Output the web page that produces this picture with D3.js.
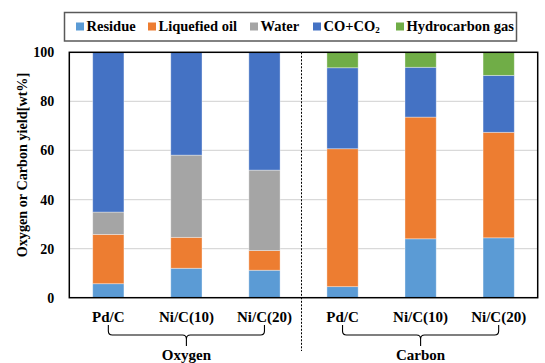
<!DOCTYPE html>
<html>
<head>
<meta charset="utf-8">
<script src="https://cdn.jsdelivr.net/npm/d3@7/dist/d3.min.js"></script>
<style>
  html, body { margin: 0; padding: 0; background: #fff; }
</style>
</head>
<body>
<svg id="chart" width="545" height="363"></svg>
<script>
// Catalysts in each bar, in drawing order (first three: oxygen balance, last three: carbon balance)
const categories = ["Pd/C", "Ni/C(10)", "Ni/C(20)", "Pd/C", "Ni/C(10)", "Ni/C(20)"];
const groups = ["Oxygen", "Carbon"];
const seriesNames = ["Residue", "Liquefied oil", "Water", "CO+CO2", "Hydrocarbon gas"];
const seriesColors = ["#5B9BD5", "#ED7D31", "#A5A5A5", "#4472C4", "#70AD47"];

// Yields in wt%
const residue        = [5.7, 12.0, 11.2, 4.5, 24.0, 24.4];
const liquefiedOil   = [20.1, 12.6, 8.0, 56.2, 49.6, 43.0];
const water          = [9.1, 33.5, 32.8, 0, 0, 0];
const coCo2          = [65.1, 41.9, 48.0, 33.0, 20.3, 23.2];
const hydrocarbonGas = [0, 0, 0, 6.3, 6.1, 9.4];

const yTicks = [0, 20, 40, 60, 80, 100];

const FONT = "Liberation Serif";

const seriesValues = [residue, liquefiedOil, water, coCo2, hydrocarbonGas];
const rows = categories.map((c, i) => {
  const r = { idx: i, name: c };
  seriesNames.forEach((s, k) => { r[s] = seriesValues[k][i]; });
  return r;
});

const svg = d3.select("#chart");
const margin = { left: 69.3, right: 7.3, top: 52.3, bottom: 65.3 };
const W = 545, H = 363;
const plotW = W - margin.left - margin.right;
const plotH = H - margin.top - margin.bottom;

const x = d3.scaleBand()
  .domain(rows.map(d => d.idx))
  .range([margin.left, margin.left + plotW])
  .paddingInner(0.6)
  .paddingOuter(0.3);

const y = d3.scaleLinear()
  .domain([0, 100])
  .range([margin.top + plotH, margin.top]);

const color = d3.scaleOrdinal().domain(seriesNames).range(seriesColors);

// gridlines
svg.append("g")
  .selectAll("line")
  .data(yTicks.filter(t => t > 0 && t < 100))
  .join("line")
  .attr("x1", margin.left).attr("x2", margin.left + plotW)
  .attr("y1", d => y(d)).attr("y2", d => y(d))
  .attr("stroke", "#d9d9d9").attr("stroke-width", 1.2);

// stacked bars
const stack = d3.stack().keys(seriesNames);
const stacked = stack(rows);

svg.append("g")
  .selectAll("g")
  .data(stacked)
  .join("g")
  .attr("fill", d => color(d.key))
  .selectAll("rect")
  .data(d => d.filter(p => p[1] - p[0] > 0))
  .join("rect")
  .attr("x", d => x(d.data.idx))
  .attr("width", x.bandwidth())
  .attr("y", d => y(d[1]))
  .attr("height", d => y(d[0]) - y(d[1]))
  .attr("stroke", "#ffffff")
  .attr("stroke-opacity", 0.45)
  .attr("stroke-width", 0.8);

// plot frame
svg.append("rect")
  .attr("x", margin.left).attr("y", margin.top)
  .attr("width", plotW).attr("height", plotH)
  .attr("fill", "none").attr("stroke", "#000").attr("stroke-width", 1.5);

// dotted separator between the oxygen and carbon groups
const sepX = (x(2) + x.bandwidth() + x(3)) / 2 - 2;
svg.append("line")
  .attr("x1", sepX).attr("x2", sepX)
  .attr("y1", margin.top).attr("y2", 351)
  .attr("stroke", "#000").attr("stroke-width", 1)
  .attr("stroke-dasharray", "2,1.5");

// y axis
const yAxis = d3.axisLeft(y).tickValues(yTicks).tickSize(0).tickPadding(15);
const gy = svg.append("g")
  .attr("transform", `translate(${margin.left},0)`)
  .call(yAxis)
  .attr("font-family", FONT)
  .attr("font-weight", "bold")
  .attr("font-size", 14);
gy.select(".domain").remove();
gy.selectAll("text").attr("fill", "#000");

// y axis title
svg.append("text")
  .attr("transform", "translate(26.5,165) rotate(-90)")
  .attr("text-anchor", "middle")
  .attr("font-family", FONT)
  .attr("font-weight", "bold")
  .attr("font-size", 14.2)
  .attr("fill", "#000")
  .text("Oxygen or Carbon yield[wt%]");

// x axis category labels
const xAxis = d3.axisBottom(x).tickSize(0).tickPadding(14).tickFormat(i => categories[i]);
const gx = svg.append("g")
  .attr("transform", `translate(0,${margin.top + plotH})`)
  .call(xAxis)
  .attr("font-family", FONT)
  .attr("font-weight", "bold")
  .attr("font-size", 15);
gx.select(".domain").remove();
gx.selectAll("text").attr("fill", "#000");

// group braces and labels
function bracePath(x1, x2, top, mid, tip) {
  const c = (x1 + x2) / 2;
  const r = 4;
  return `M${x1},${top} L${x1},${mid - r} Q${x1},${mid} ${x1 + r},${mid} L${c - r},${mid} Q${c},${mid} ${c},${mid + r} L${c},${tip}` +
         ` M${c},${mid + r} Q${c},${mid} ${c + r},${mid} L${x2 - r},${mid} Q${x2},${mid} ${x2},${mid - r} L${x2},${top}`;
}
groups.forEach((g, gi) => {
  const first = gi * 3, last = gi * 3 + 2;
  const x1 = x(first) + x.bandwidth() / 2;
  const x2 = x(last) + x.bandwidth() / 2;
  svg.append("path")
    .attr("d", bracePath(x1, x2, 325, 335, 346))
    .attr("fill", "none").attr("stroke", "#000").attr("stroke-width", 1.1);
  svg.append("text")
    .attr("x", (x1 + x2) / 2).attr("y", 360)
    .attr("text-anchor", "middle")
    .attr("font-family", FONT)
    .attr("font-weight", "bold")
    .attr("font-size", 15)
    .attr("fill", "#000")
    .text(g);
});

// legend
const legend = svg.append("g")
  .attr("font-family", FONT)
  .attr("font-weight", "bold");
legend.append("rect")
  .attr("x", 64.5).attr("y", 12.5).attr("width", 452).attr("height", 28.5)
  .attr("fill", "#fff").attr("stroke", "#595959").attr("stroke-width", 1.5);
const legendX = [76, 148, 250, 313, 396];
seriesNames.forEach((s, k) => {
  legend.append("rect")
    .attr("x", legendX[k]).attr("y", 22.5).attr("width", 8).attr("height", 8)
    .attr("fill", color(s));
  const t = legend.append("text")
    .attr("x", legendX[k] + 10.5).attr("y", 30.5)
    .attr("font-size", 14.5)
    .attr("fill", "#000");
  if (s === "CO+CO2") {
    t.append("tspan").text("CO+CO");
    t.append("tspan").attr("font-size", 9).attr("dy", 2).text("2");
  } else {
    t.text(s);
  }
});
</script>
</body>
</html>
